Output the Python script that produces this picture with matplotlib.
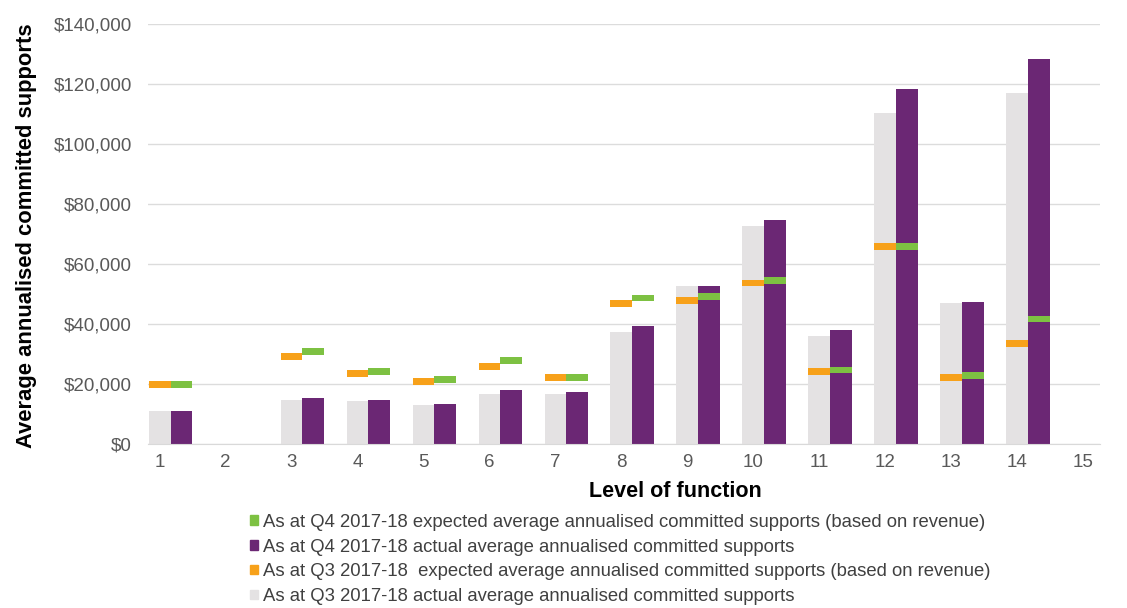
import numpy as np
import matplotlib
matplotlib.use("Agg")
import matplotlib.pyplot as plt
from matplotlib.patches import Patch
from matplotlib.ticker import FuncFormatter

plt.rcParams['font.family'] = ['Liberation Sans', 'DejaVu Sans']

# level of function 1..15 (2 and 15 have no data)
levels = list(range(1, 16))
q3_actual = [11000, np.nan, 14700, 14200, 12900, 16700, 16600, 37400, 52700,
             72600, 36100, 110300, 46800, 117000, np.nan]
q4_actual = [11000, np.nan, 15400, 14700, 13300, 17900, 17400, 39400, 52700,
             74600, 37800, 118300, 47300, 128300, np.nan]
q3_expected = [19700, np.nan, 29100, 23300, 20900, 25800, 22100, 46900, 47800,
               53600, 24100, 65700, 22000, 33300, np.nan]
q4_expected = [19700, np.nan, 30800, 24200, 21300, 27900, 22100, 48600, 49100,
               54400, 24600, 65700, 22800, 41600, np.nan]

labels = [
    "As at Q4 2017-18 expected average annualised committed supports (based on revenue)",
    "As at Q4 2017-18 actual average annualised committed supports",
    "As at Q3 2017-18  expected average annualised committed supports (based on revenue)",
    "As at Q3 2017-18 actual average annualised committed supports",
]

GREY = "#E4E2E3"
PURPLE = "#6B2774"
ORANGE = "#F7A11A"
GREEN = "#7DC142"
TXT = "#595959"

fig = plt.figure(figsize=(11.27, 6.08), dpi=100)
ax = fig.add_axes([0.131, 0.270, 0.845, 0.691])

x = np.array(levels, dtype=float)
w = 0.333
mk = 2300  # marker thickness in dollars

ax.bar(x, q3_actual, width=w, color=GREY, zorder=2)
ax.bar(x + w, q4_actual, width=w, color=PURPLE, zorder=2)
ax.bar(x, mk, bottom=np.array(q3_expected) - mk / 2, width=w, color=ORANGE, zorder=3)
ax.bar(x + w, mk, bottom=np.array(q4_expected) - mk / 2, width=w, color=GREEN, zorder=3)

ax.set_xlim(0.82, 15.25)
ax.set_ylim(0, 140000)
ax.set_yticks(np.arange(0, 140001, 20000))
ax.yaxis.set_major_formatter(FuncFormatter(lambda v, p: "${:,.0f}".format(v)))
ax.set_xticks(x)
ax.set_xticklabels([str(l) for l in levels])
ax.grid(axis="y", color="#DCDCDC", linewidth=1, zorder=0)
ax.set_axisbelow(True)
for s in ["top", "right", "left"]:
    ax.spines[s].set_visible(False)
ax.spines["bottom"].set_color("#D9D9D9")
ax.tick_params(axis="both", length=0, labelsize=13.5, labelcolor=TXT)
ax.tick_params(axis="y", pad=11.4)
ax.tick_params(axis="x", pad=7)

ax.set_xlabel("Level of function", fontsize=15.5, fontweight="bold")
ax.xaxis.set_label_coords(0.554, -0.088)
ax.set_ylabel("Average annualised committed supports", fontsize=15.8,
              fontweight="bold")
ax.yaxis.set_label_coords(-0.116, 0.495)

handles = [Patch(color=GREEN), Patch(color=PURPLE), Patch(color=ORANGE), Patch(color=GREY)]
fig.legend(handles, labels, loc="upper left", bbox_to_anchor=(0.222, 0.155),
           frameon=False, fontsize=13.3, labelcolor="#404040",
           handlelength=0.4, handleheight=0.4, handletextpad=0.3,
           labelspacing=0.42, borderpad=0, borderaxespad=0)

fig.savefig("out.png", dpi=100)
